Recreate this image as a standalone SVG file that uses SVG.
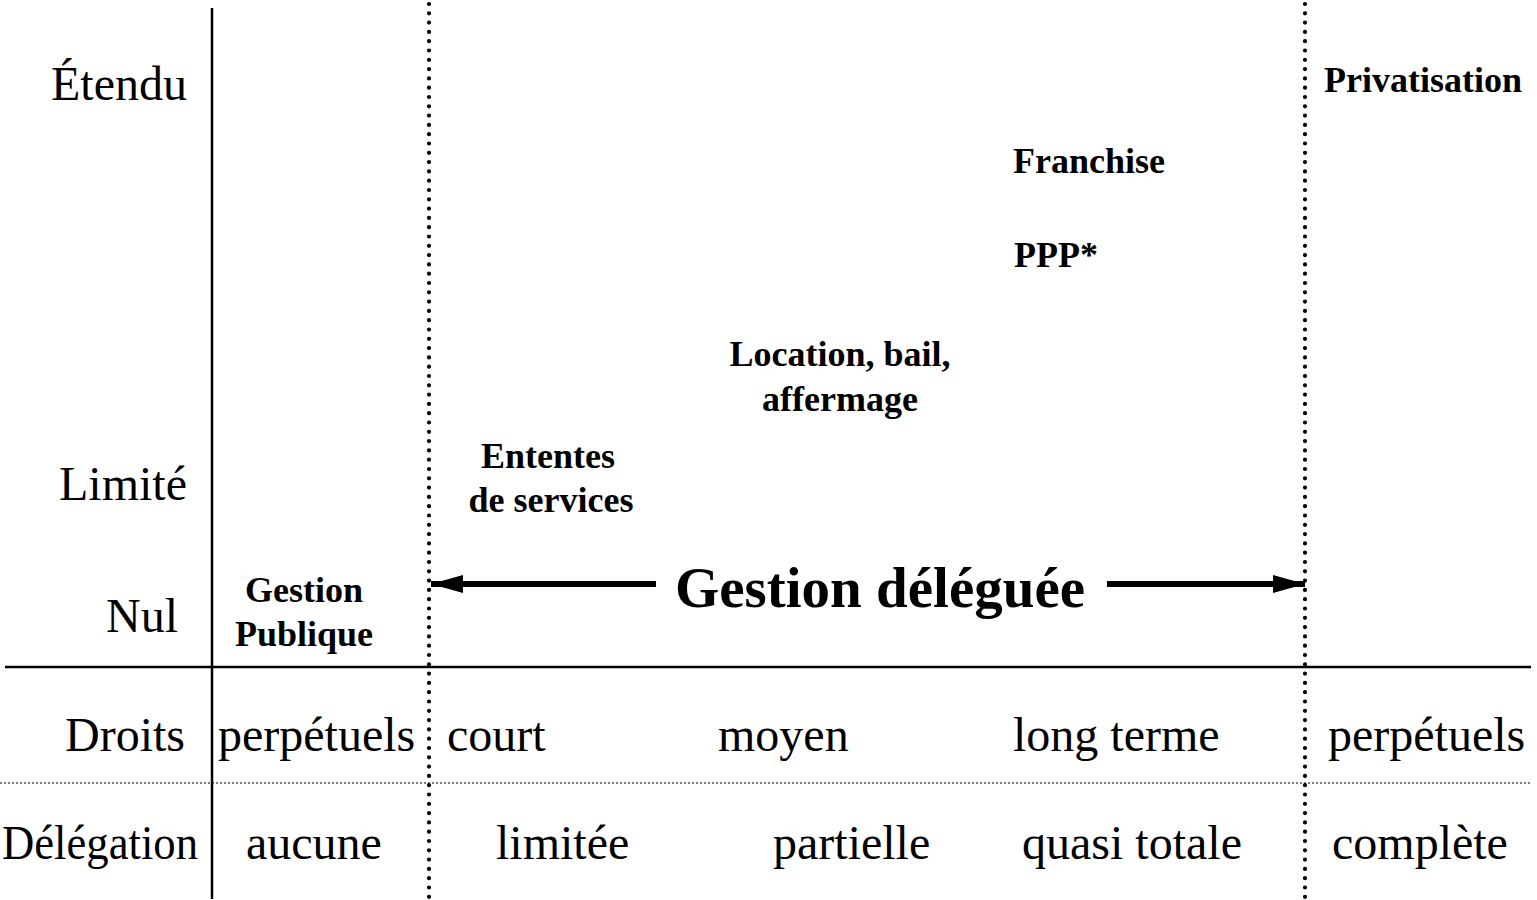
<svg xmlns="http://www.w3.org/2000/svg" width="1537" height="900" viewBox="0 0 1537 900">
<defs>
<style>
.r{font-family:"Liberation Serif","Times New Roman",serif;font-size:48px;fill:#000}
.b{font-family:"Liberation Serif","Times New Roman",serif;font-size:36px;font-weight:bold;fill:#000}
.big{font-family:"Liberation Serif","Times New Roman",serif;font-size:57px;font-weight:bold;fill:#000}
.solid{stroke:#000;stroke-width:2.5;fill:none}
.dots{stroke:#000;stroke-width:4.2;stroke-linecap:round;stroke-dasharray:0 9.3;fill:none}
.fine{stroke:#000;stroke-width:1.2;stroke-dasharray:2 2;fill:none}
.shaft{stroke:#000;stroke-width:6;fill:none}
</style>
<marker id="ah" viewBox="0 0 32 18" refX="32" refY="9" markerWidth="32" markerHeight="18" markerUnits="userSpaceOnUse" orient="auto">
<path d="M0,0 L32,9 L0,18 Z" fill="#000"/>
</marker>
</defs>
<rect width="1537" height="900" fill="#fff"/>
<g id="grid">
<line class="solid" x1="212" y1="8" x2="212" y2="899"/>
<line class="solid" x1="5" y1="667" x2="1531" y2="667"/>
<line class="fine" x1="0" y1="783" x2="1531" y2="783"/>
<line class="dots" x1="429" y1="4" x2="429" y2="900"/>
<line class="dots" x1="1305" y1="4" x2="1305" y2="900"/>
</g>
<g id="axis-labels">
<text class="r" x="187" y="100" text-anchor="end">Étendu</text>
<text class="r" x="187" y="500" text-anchor="end">Limité</text>
<text class="r" x="178" y="632" text-anchor="end">Nul</text>
<text class="r" x="185" y="751" text-anchor="end">Droits</text>
<text class="r" x="2" y="859" textLength="196" lengthAdjust="spacingAndGlyphs">Délégation</text>
</g>
<g id="row-droits">
<text class="r" x="218" y="751">perpétuels</text>
<text class="r" x="447" y="751">court</text>
<text class="r" x="718" y="751">moyen</text>
<text class="r" x="1013" y="751">long terme</text>
<text class="r" x="1328" y="751">perpétuels</text>
</g>
<g id="row-delegation">
<text class="r" x="246" y="859">aucune</text>
<text class="r" x="496" y="859">limitée</text>
<text class="r" x="773" y="859">partielle</text>
<text class="r" x="1022" y="859">quasi totale</text>
<text class="r" x="1332" y="859">complète</text>
</g>
<g id="node-gestion-publique">
<text class="b" x="304" y="602" text-anchor="middle">Gestion</text>
<text class="b" x="304" y="646" text-anchor="middle">Publique</text>
</g>
<g id="node-ententes">
<text class="b" x="548" y="468" text-anchor="middle">Ententes</text>
<text class="b" x="551" y="512" text-anchor="middle">de services</text>
</g>
<g id="node-location">
<text class="b" x="840" y="366" text-anchor="middle">Location, bail,</text>
<text class="b" x="840" y="411" text-anchor="middle">affermage</text>
</g>
<g id="node-ppp">
<text class="b" x="1014" y="267">PPP*</text>
</g>
<g id="node-franchise">
<text class="b" x="1013" y="173">Franchise</text>
</g>
<g id="node-privatisation">
<text class="b" x="1324" y="92">Privatisation</text>
</g>
<g id="node-gestion-deleguee">
<text class="big" x="880" y="607" text-anchor="middle">Gestion déléguée</text>
</g>
<g id="connectors">
<line class="shaft" x1="656" y1="584" x2="431" y2="584" marker-end="url(#ah)"/>
<line class="shaft" x1="1107" y1="584" x2="1305" y2="584" marker-end="url(#ah)"/>
</g>
</svg>
